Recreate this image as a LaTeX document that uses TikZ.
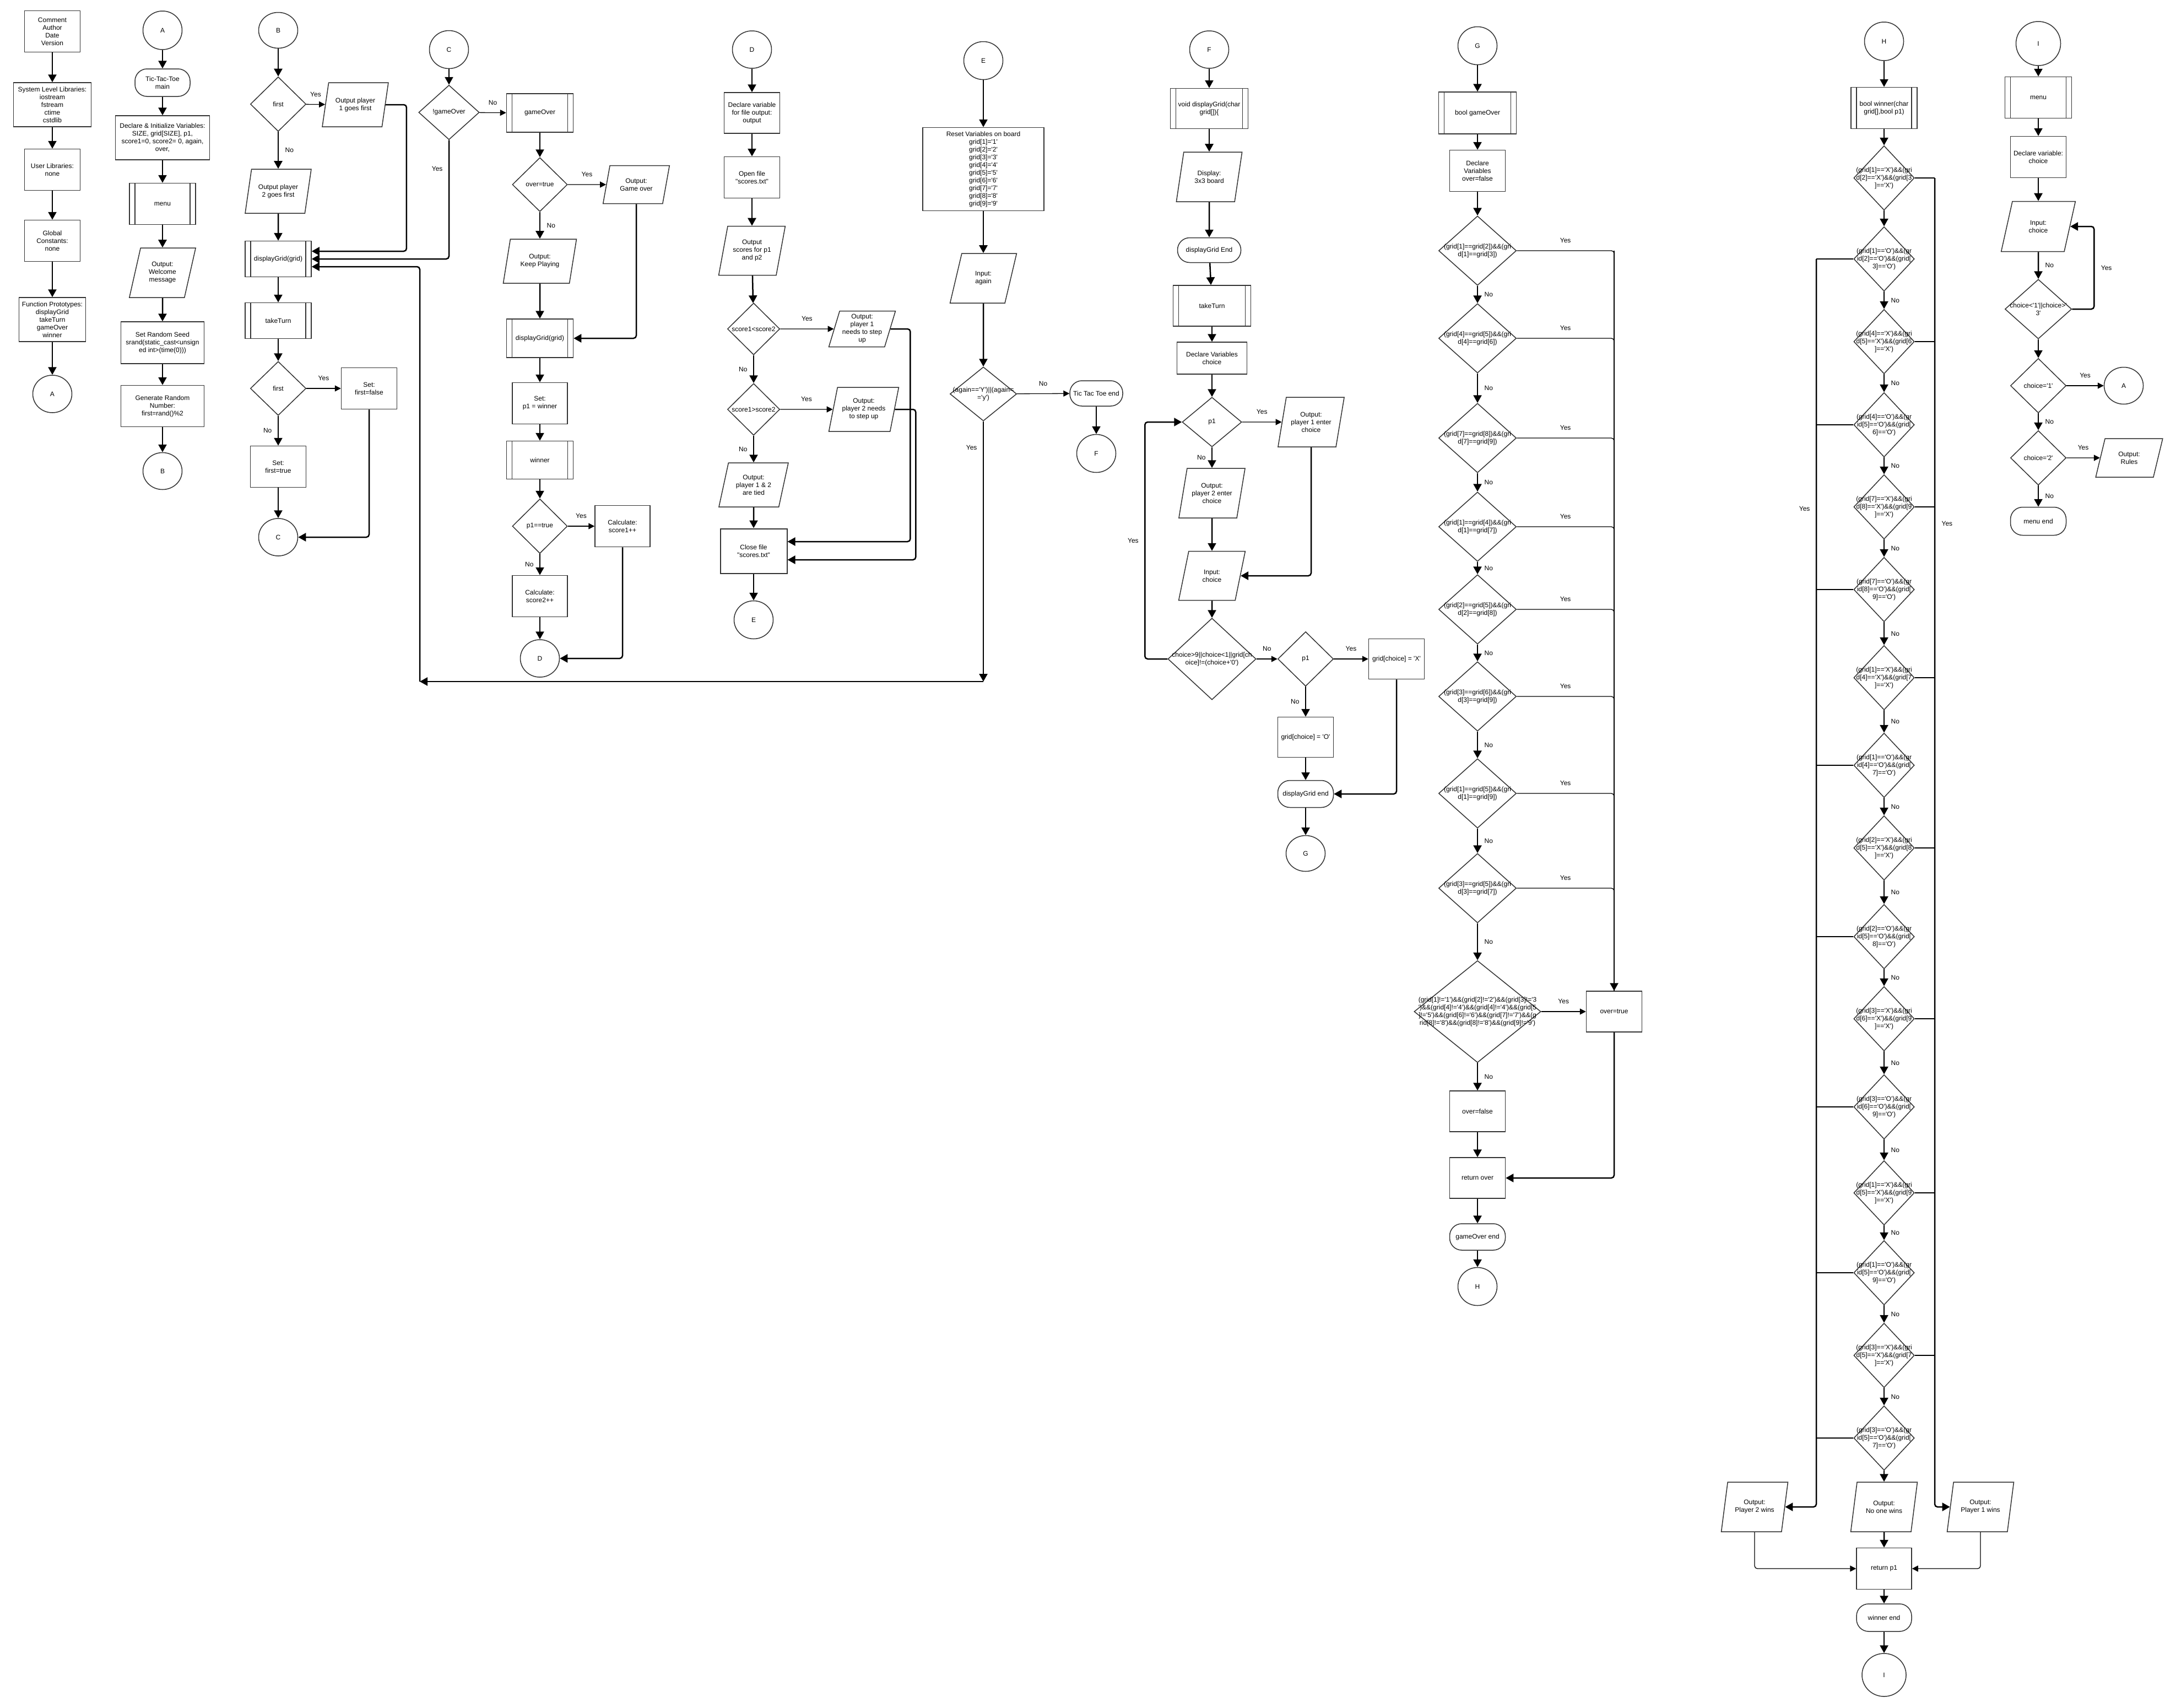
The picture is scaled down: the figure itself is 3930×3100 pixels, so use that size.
\documentclass[tikz,border=0pt]{standalone}
\usepackage{fontspec}
\usepackage{tikz}
\usetikzlibrary{arrows.meta,shapes.geometric}
\newfontfamily\flowfont{Liberation Sans}
\newcommand{\flowtxt}{\flowfont\fontsize{12pt}{14pt}\selectfont}
\definecolor{edgec}{HTML}{333333}
\tikzset{
  dims/.style 2 args={minimum width=#1pt,minimum height=#2pt},
  proc/.style={rectangle,draw=edgec,line width=1.5pt,inner sep=1pt,align=center},
  pred/.style={proc,path picture={\draw[edgec,line width=1.5pt]
      ([xshift=10pt]path picture bounding box.north west) -- ([xshift=10pt]path picture bounding box.south west)
      ([xshift=-10pt]path picture bounding box.north east) -- ([xshift=-10pt]path picture bounding box.south east);}},
  term/.style={proc,rounded corners=22pt},
  io/.style={trapezium,trapezium left angle=72,trapezium right angle=108,trapezium stretches=true,
      draw=edgec,line width=1.5pt,inner sep=1pt,align=center},
  conn/.style={ellipse,draw=edgec,line width=1.5pt,inner sep=0pt,dims={71}{69}},
  dec/.style={diamond,draw=edgec,line width=1.5pt,inner sep=0pt,label={[align=center]center:#1}},
  gdec/.style={dec={#1},dims={141}{126}},
  hdec/.style={dec={#1},dims={110}{117}},
  ar/.style={-{Triangle[length=14pt,width=15pt]},line width=2.5pt,rounded corners=5pt},
  arthin/.style={-{Triangle[length=11pt,width=11pt]},line width=1.3pt,rounded corners=5pt},
  ln/.style={line width=1.3pt,rounded corners=5pt},
  labA/.style={above=10pt},
  labR/.style={right=8pt},
  labL/.style={left=7pt}
}
\begin{document}
\begin{tikzpicture}[x=1pt,y=-1pt,font=\flowtxt]
\path[fill=white,use as bounding box] (0,0) rectangle (3930,3100);

% header
\node[proc,dims={101}{75}] (cmt) at (95,57) {Comment\\Author\\Date\\Version};
\node[proc,dims={141}{80}] (syslib) at (95,190) {System Level Libraries:\\iostream\\fstream\\ctime\\cstdlib};
\node[proc,dims={101}{75}] (usrlib) at (95,308) {User Libraries:\\none};
\node[proc,dims={101}{75}] (glob) at (95,437) {Global\\Constants:\\none};
\node[proc,dims={121}{80}] (proto) at (95,580) {Function Prototypes:\\displayGrid\\takeTurn\\gameOver\\winner};
\node[conn,dims={71}{68}] (conA1) at (95,715) {A};
\draw[ar] (cmt) -- (syslib);
\draw[ar] (syslib) -- (usrlib);
\draw[ar] (usrlib) -- (glob);
\draw[ar] (glob) -- (proto);
\draw[ar] (proto) -- (conA1);

% A: main
\node[conn,dims={71}{70}] (conA2) at (295,55) {A};
\node[term,dims={100}{50}] (mainT) at (295,150) {Tic-Tac-Toe\\main};
\node[proc,dims={171}{80}] (initV) at (295,250) {Declare \& Initialize Variables:\\SIZE, grid[SIZE], p1,\\score1=0, score2= 0, again,\\over,};
\node[pred,dims={120}{75}] (menuA) at (295,370) {menu};
\node[io,dims={121}{90}] (welc) at (295,495) {Output:\\Welcome\\message};
\node[proc,dims={151}{76}] (seed) at (295,622) {Set Random Seed\\srand(static\_cast<unsign\\ed int>(time(0)))};
\node[proc,dims={151}{75}] (rnd) at (295,737) {Generate Random\\Number:\\first=rand()\%2};
\node[conn,dims={71}{67}] (conB1) at (295,855) {B};
\draw[ar] (conA2) -- (mainT);
\draw[ar] (mainT) -- (initV);
\draw[ar] (initV) -- (menuA);
\draw[ar] (menuA) -- (welc);
\draw[ar] (welc) -- (seed);
\draw[ar] (seed) -- (rnd);
\draw[ar] (rnd) -- (conB1);

% B: turns
\node[conn,dims={71}{65}] (conB2) at (505,55) {B};
\node[dec={first},dims={101}{99}] (first1) at (505,189) {};
\node[io,dims={120}{80}] (out1) at (645,190) {Output player\\1 goes first};
\node[io,dims={120}{80}] (out2) at (505,347) {Output player\\2 goes first};
\node[pred,dims={120}{65}] (dispB) at (505,470) {displayGrid(grid)};
\node[pred,dims={120}{65}] (turnB) at (505,582) {takeTurn};
\node[dec={first},dims={101}{98}] (first2) at (505,705) {};
\node[proc,dims={101}{75}] (setF) at (670,705) {Set:\\first=false};
\node[proc,dims={101}{75}] (setT) at (505,847) {Set:\\first=true};
\node[conn,dims={71}{68}] (conC1) at (505,975) {C};
\draw[ar] (conB2) -- (first1);
\draw[arthin] (first1) -- node[labA]{Yes} (out1);
\draw[ar] (first1) -- node[labR]{No} (out2);
\draw[ar] (out2) -- (dispB);
\draw[ar] (out1.east) -- ++(38,0) |- ([yshift=14pt]dispB.east);
\draw[ar] (dispB) -- (turnB);
\draw[ar] (turnB) -- (first2);
\draw[arthin] (first2) -- node[labA]{Yes} (setF);
\draw[ar] (first2) -- node[labL]{No} (setT);
\draw[ar] (setT) -- (conC1);
\draw[ar] (setF) |- (conC1);

% C: game loop
\node[conn] (conC2) at (815,90) {C};
\node[dec={!gameOver},dims={110}{99}] (notGO) at (815,204) {};
\node[pred,dims={121}{70}] (goC) at (980,205) {gameOver};
\node[dec={over=true},dims={100}{98}] (overT) at (980,335) {};
\node[io,dims={121}{69}] (goOut) at (1155,335) {Output:\\Game over};
\node[io,dims={134}{80}] (keepP) at (980,474) {Output:\\Keep Playing};
\node[pred,dims={121}{70}] (dispC) at (980,614) {displayGrid(grid)};
\node[proc,dims={100}{75}] (setP1) at (980,732) {Set:\\p1 = winner};
\node[pred,dims={121}{69}] (winC) at (980,835) {winner};
\node[dec={p1==true},dims={100}{99}] (p1T) at (980,955) {};
\node[proc,dims={100}{75}] (sc1) at (1130,955) {Calculate:\\score1++};
\node[proc,dims={100}{75}] (sc2) at (980,1082) {Calculate:\\score2++};
\node[conn,dims={71}{68}] (conD1) at (980,1195) {D};
\draw[ar] (conC2) -- (notGO);
\draw[arthin] (notGO) -- node[labA]{No} (goC);
\draw[ar] (notGO) |- node[pos=0.12,labL]{Yes} (dispB);
\draw[ar] (goC) -- (overT);
\draw[arthin] (overT) -- node[labA]{Yes} (goOut);
\draw[ar] (overT) -- node[labR]{No} (keepP);
\draw[ar] (keepP) -- (dispC);
\draw[ar] (goOut) |- (dispC);
\draw[ar] (dispC) -- (setP1);
\draw[ar] (setP1) -- (winC);
\draw[ar] (winC) -- (p1T);
\draw[arthin] (p1T) -- node[labA]{Yes} (sc1);
\draw[ar] (p1T) -- node[labL]{No} (sc2);
\draw[ar] (sc2) -- (conD1);
\draw[ar] (sc1) |- (conD1);

% D: scores file
\node[conn,dims={71}{68}] (conD2) at (1365,90) {D};
\node[proc,dims={101}{74}] (declF) at (1365,205) {Declare variable\\for file output:\\output};
\node[proc,dims={101}{75}] (openF) at (1365,322) {Open file\\"scores.txt"};
\node[io,dims={121}{89}] (outSc) at (1365,455) {Output\\scores for p1\\and p2};
\node[dec={score1<score2},dims={95}{94}] (cmp1) at (1368,597) {};
\node[io,dims={121}{65}] (stepP1) at (1565,597) {Output:\\player 1\\needs to step\\up};
\node[dec={score1>score2},dims={95}{94}] (cmp2) at (1368,743) {};
\node[io,dims={127}{80}] (stepP2) at (1568,743) {Output:\\player 2 needs\\to step up};
\node[io,dims={127}{80}] (tied) at (1368,880) {Output:\\player 1 \& 2\\are tied};
\node[proc,line width=2pt,dims={121}{81}] (closeF) at (1368,1000) {Close file\\"scores.txt"};
\node[conn] (conE1) at (1368,1125) {E};
\draw[ar] (conD2) -- (declF);
\draw[ar] (declF) -- (openF);
\draw[ar] (openF) -- (outSc);
\draw[ar] (outSc) -- (cmp1);
\draw[arthin] (cmp1) -- node[labA]{Yes} (stepP1);
\draw[ar] (cmp1) -- node[labL]{No} (cmp2);
\draw[arthin] (cmp2) -- node[labA]{Yes} (stepP2);
\draw[ar] (cmp2) -- node[labL]{No} (tied);
\draw[ar] (tied) -- (closeF);
\draw[ar] (closeF) -- (conE1);
\draw[ar] (stepP1.east) -- ++(36,0) |- ([yshift=17pt]closeF.east);
\draw[ar] (stepP2.east) -- ++(38,0) |- ([yshift=-16pt]closeF.east);

% E: play again
\node[conn] (conE2) at (1785,110) {E};
\node[proc,dims={220}{151}] (reset) at (1785,307) {Reset Variables on board\\grid[1]='1'\\grid[2]='2'\\grid[3]='3'\\grid[4]='4'\\grid[5]='5'\\grid[6]='6'\\grid[7]='7'\\grid[8]='8'\\grid[9]='9'};
\node[io,dims={121}{90}] (inAgain) at (1785,505) {Input:\\again};
\node[dec={(again=='Y')||(again=\\='y')},dims={121}{98}] (again) at (1785,715) {};
\node[term,dims={96}{46}] (endT) at (1990,714) {Tic Tac Toe end};
\node[conn] (conF1) at (1990,823) {F};
\coordinate (retE) at (1785,1237);
\coordinate (retB) at (762,1237);
\draw[ar] (conE2) -- (reset);
\draw[ar] (reset) -- (inAgain);
\draw[ar] (inAgain) -- (again);
\draw[arthin] (again) -- node[labA]{No} (endT);
\draw[ar] (endT) -- (conF1);
\draw[ar] (again) -- node[pos=0.1,labL]{Yes} (retE);
\draw[ar] (retE) -- (retB);
\draw[ar] (retB) |- ([yshift=-14pt]dispB.east);

% F: displayGrid and takeTurn
\node[conn,dims={71}{68}] (conF2) at (2195,90) {F};
\node[pred,dims={141}{73}] (dgF) at (2195,197) {void displayGrid(char\\grid[])\{};
\node[io,dims={120}{90}] (show) at (2195,321) {Display:\\3x3 board};
\node[term,dims={115}{45}] (dgEnd) at (2195,454) {displayGrid End};
\node[pred,dims={141}{74}] (turnF) at (2200,555) {takeTurn};
\node[proc,dims={127}{58}] (declCh) at (2200,650) {Declare Variables\\choice};
\node[dec={p1},dims={108}{90}] (p1F) at (2200,766) {};
\node[io,dims={121}{90}] (askP1) at (2380,766) {Output:\\player 1 enter\\choice};
\node[io,dims={121}{90}] (askP2) at (2200,895) {Output:\\player 2 enter\\choice};
\node[io,dims={121}{89}] (inCh) at (2200,1045) {Input:\\choice};
\node[dec={choice>9||choice<1||grid[ch\\oice]!=(choice+'0')},dims={160}{148}] (valid) at (2200,1196) {};
\node[dec={p1},dims={101}{99}] (p1G) at (2370,1196) {};
\node[proc,dims={101}{73}] (setX) at (2535,1196) {grid[choice] = 'X'};
\node[proc,dims={101}{73}] (setO) at (2370,1338) {grid[choice] = 'O'};
\node[term,dims={101}{49}] (dgEnd2) at (2370,1441) {displayGrid end};
\node[conn,dims={71}{65}] (conG1) at (2370,1549) {G};
\draw[ar] (conF2) -- (dgF);
\draw[ar] (dgF) -- (show);
\draw[ar] (show) -- (dgEnd);
\draw[ar] (dgEnd) -- (turnF);
\draw[ar] (turnF) -- (declCh);
\draw[ar] (declCh) -- (p1F);
\draw[arthin] (p1F) -- node[labA]{Yes} (askP1);
\draw[ar] (p1F) -- node[labL]{No} (askP2);
\draw[ar] (askP2) -- (inCh);
\draw[ar] (askP1) |- (inCh);
\draw[ar] (inCh) -- (valid);
\draw[ar] (valid.west) -- ++(-41,0) |- node[pos=0.25,labL]{Yes} (p1F.west);
\draw[arthin] (valid) -- node[labA]{No} (p1G);
\draw[arthin] (p1G) -- node[labA]{Yes} (setX);
\draw[ar] (p1G) -- node[labL]{No} (setO);
\draw[ar] (setO) -- (dgEnd2);
\draw[ar] (setX) |- (dgEnd2);
\draw[ar] (dgEnd2) -- (conG1);

% G: gameOver
\node[conn] (conG2) at (2682,83) {G};
\node[pred,dims={141}{76}] (goG) at (2682,205) {bool gameOver};
\node[proc,dims={101}{75}] (declO) at (2682,310) {Declare\\Variables\\over=false};
\node[gdec={(grid[1]==grid[2])\&\&(gri\\d[1]==grid[3])}] (g1) at (2682,455) {};
\node[gdec={(grid[4]==grid[5])\&\&(gri\\d[4]==grid[6])}] (g2) at (2682,614) {};
\node[gdec={(grid[7]==grid[8])\&\&(gri\\d[7]==grid[9])}] (g3) at (2682,795) {};
\node[gdec={(grid[1]==grid[4])\&\&(gri\\d[1]==grid[7])}] (g4) at (2682,956) {};
\node[gdec={(grid[2]==grid[5])\&\&(gri\\d[2]==grid[8])}] (g5) at (2682,1106) {};
\node[gdec={(grid[3]==grid[6])\&\&(gri\\d[3]==grid[9])}] (g6) at (2682,1264) {};
\node[gdec={(grid[1]==grid[5])\&\&(gri\\d[1]==grid[9])}] (g7) at (2682,1440) {};
\node[gdec={(grid[3]==grid[5])\&\&(gri\\d[3]==grid[7])}] (g8) at (2682,1612) {};
\node[dec={(grid[1]!='1')\&\&(grid[2]!='2')\&\&(grid[3]!='3\\')\&\&(grid[4]!='4')\&\&(grid[4]!='4')\&\&(grid[5\\]!='5')\&\&(grid[6]!='6')\&\&(grid[7]!='7')\&\&(g\\rid[8]!='8')\&\&(grid[8]!='8')\&\&(grid[9]!='9')},dims={230}{185}] (g9) at (2682,1836) {};
\node[proc,dims={101}{74}] (overTG) at (2930,1836) {over=true};
\node[proc,dims={101}{74}] (overFG) at (2682,2017) {over=false};
\node[proc,dims={101}{74}] (retO) at (2682,2138) {return over};
\node[term,dims={101}{48}] (goEnd) at (2682,2245) {gameOver end};
\node[conn] (conH1) at (2682,2335) {H};
\coordinate (gbus) at (2930,455);
\draw[ar] (conG2) -- (goG);
\draw[ar] (goG) -- (declO);
\draw[ar] (declO) -- (g1);
\draw[ar] (g1) -- node[labR]{No} (g2);
\draw[ar] (g2) -- node[labR]{No} (g3);
\draw[ar] (g3) -- node[labR]{No} (g4);
\draw[ar] (g4) -- node[labR]{No} (g5);
\draw[ar] (g5) -- node[labR]{No} (g6);
\draw[ar] (g6) -- node[labR]{No} (g7);
\draw[ar] (g7) -- node[labR]{No} (g8);
\draw[ar] (g8) -- node[labR]{No} (g9);
\draw[ln] (g1.east) -| node[pos=0.25,labA]{Yes} (overTG);
\draw[ln] (g2.east) -| node[pos=0.25,labA]{Yes} (overTG);
\draw[ln] (g3.east) -| node[pos=0.25,labA]{Yes} (overTG);
\draw[ln] (g4.east) -| node[pos=0.25,labA]{Yes} (overTG);
\draw[ln] (g5.east) -| node[pos=0.25,labA]{Yes} (overTG);
\draw[ln] (g6.east) -| node[pos=0.25,labA]{Yes} (overTG);
\draw[ln] (g7.east) -| node[pos=0.25,labA]{Yes} (overTG);
\draw[ln] (g8.east) -| node[pos=0.25,labA]{Yes} (overTG);
\draw[ar] (gbus) -- (overTG);
\draw[arthin] (g9) -- node[labA]{Yes} (overTG);
\draw[ar] (g9) -- node[labR]{No} (overFG);
\draw[ar] (overFG) -- (retO);
\draw[ar] (overTG) |- (retO);
\draw[ar] (retO) -- (goEnd);
\draw[ar] (goEnd) -- (conH1);

% H: winner
\node[conn,dims={71}{70}] (conH2) at (3420,75) {H};
\node[pred,dims={120}{75}] (winH) at (3420,196) {bool winner(char\\grid[],bool p1)};
\node[hdec={(grid[1]=='X')\&\&(gri\\d[2]=='X')\&\&(grid[3\\]=='X')}] (h1) at (3420,323) {};
\node[hdec={(grid[1]=='O')\&\&(gr\\id[2]=='O')\&\&(grid[\\3]=='O')}] (h2) at (3420,470) {};
\node[hdec={(grid[4]=='X')\&\&(gri\\d[5]=='X')\&\&(grid[6\\]=='X')}] (h3) at (3420,620) {};
\node[hdec={(grid[4]=='O')\&\&(gr\\id[5]=='O')\&\&(grid[\\6]=='O')}] (h4) at (3420,771) {};
\node[hdec={(grid[7]=='X')\&\&(gri\\d[8]=='X')\&\&(grid[9\\]=='X')}] (h5) at (3420,920) {};
\node[hdec={(grid[7]=='O')\&\&(gr\\id[8]=='O')\&\&(grid[\\9]=='O')}] (h6) at (3420,1070) {};
\node[hdec={(grid[1]=='X')\&\&(gri\\d[4]=='X')\&\&(grid[7\\]=='X')}] (h7) at (3420,1230) {};
\node[hdec={(grid[1]=='O')\&\&(gr\\id[4]=='O')\&\&(grid[\\7]=='O')}] (h8) at (3420,1389) {};
\node[hdec={(grid[2]=='X')\&\&(gri\\d[5]=='X')\&\&(grid[8\\]=='X')}] (h9) at (3420,1539) {};
\node[hdec={(grid[2]=='O')\&\&(gr\\id[5]=='O')\&\&(grid[\\8]=='O')}] (h10) at (3420,1700) {};
\node[hdec={(grid[3]=='X')\&\&(gri\\d[6]=='X')\&\&(grid[9\\]=='X')}] (h11) at (3420,1849) {};
\node[hdec={(grid[3]=='O')\&\&(gr\\id[6]=='O')\&\&(grid[\\9]=='O')}] (h12) at (3420,2009) {};
\node[hdec={(grid[1]=='X')\&\&(gri\\d[5]=='X')\&\&(grid[9\\]=='X')}] (h13) at (3420,2165) {};
\node[hdec={(grid[1]=='O')\&\&(gr\\id[5]=='O')\&\&(grid[\\9]=='O')}] (h14) at (3420,2310) {};
\node[hdec={(grid[3]=='X')\&\&(gri\\d[5]=='X')\&\&(grid[7\\]=='X')}] (h15) at (3420,2460) {};
\node[hdec={(grid[3]=='O')\&\&(gr\\id[5]=='O')\&\&(grid[\\7]=='O')}] (h16) at (3420,2610) {};
\node[io,dims={121}{90}] (p2win) at (3185,2735) {Output:\\Player 2 wins};
\node[io,dims={121}{90}] (noWin) at (3420,2735) {Output:\\No one wins};
\node[io,dims={121}{90}] (p1win) at (3595,2735) {Output:\\Player 1 wins};
\node[proc,dims={100}{75}] (retP1) at (3420,2847) {return p1};
\node[term,dims={100}{50}] (winEnd) at (3420,2936) {winner end};
\node[conn,dims={80}{78}] (conI1) at (3420,3040) {I};
\coordinate (hR) at (3512,323);
\coordinate (hL) at (3297,470);
\draw[ar] (conH2) -- (winH);
\draw[ar] (winH) -- (h1);
\draw[ar] (h1) -- (h2);
\draw[ar] (h2) -- node[labR]{No} (h3);
\draw[ar] (h3) -- node[labR]{No} (h4);
\draw[ar] (h4) -- node[labR]{No} (h5);
\draw[ar] (h5) -- node[labR]{No} (h6);
\draw[ar] (h6) -- node[labR]{No} (h7);
\draw[ar] (h7) -- node[labR]{No} (h8);
\draw[ar] (h8) -- node[labR]{No} (h9);
\draw[ar] (h9) -- node[labR]{No} (h10);
\draw[ar] (h10) -- node[labR]{No} (h11);
\draw[ar] (h11) -- node[labR]{No} (h12);
\draw[ar] (h12) -- node[labR]{No} (h13);
\draw[ar] (h13) -- node[labR]{No} (h14);
\draw[ar] (h14) -- node[labR]{No} (h15);
\draw[ar] (h15) -- node[labR]{No} (h16);
\draw[ar] (h16) -- (noWin);
\draw[ln] (h1.east) -- (hR);
\draw[ln] (h3.east) -- (h3.east -| hR);
\draw[ln] (h5.east) -- (h5.east -| hR);
\draw[ln] (h7.east) -- (h7.east -| hR);
\draw[ln] (h9.east) -- (h9.east -| hR);
\draw[ln] (h11.east) -- (h11.east -| hR);
\draw[ln] (h13.east) -- (h13.east -| hR);
\draw[ln] (h15.east) -- (h15.east -| hR);
\draw[ln] (h2.west) -- (hL);
\draw[ln] (h4.west) -- (h4.west -| hL);
\draw[ln] (h6.west) -- (h6.west -| hL);
\draw[ln] (h8.west) -- (h8.west -| hL);
\draw[ln] (h10.west) -- (h10.west -| hL);
\draw[ln] (h12.west) -- (h12.west -| hL);
\draw[ln] (h14.west) -- (h14.west -| hL);
\draw[ln] (h16.west) -- (h16.west -| hL);
\draw[ar] (hR) |- node[pos=0.13,labR]{Yes} (p1win);
\draw[ar] (hL) |- node[pos=0.1,labL]{Yes} (p2win);
\draw[ar] (noWin) -- (retP1);
\draw[arthin] (p2win) |- (retP1);
\draw[arthin] (p1win) |- (retP1);
\draw[ar] (retP1) -- (winEnd);
\draw[ar] (winEnd) -- (conI1);

% I: menu
\node[conn,dims={81}{80}] (conI2) at (3700,79) {I};
\node[pred,dims={121}{75}] (menuI) at (3700,177) {menu};
\node[proc,dims={101}{75}] (declI) at (3700,285) {Declare variable:\\choice};
\node[io,dims={135}{91}] (inI) at (3700,411) {Input:\\choice};
\node[dec={choice<'1'||choice>'\\3'},dims={121}{108}] (rangeI) at (3700,561) {};
\node[dec={choice='1'},dims={101}{99}] (ch1) at (3700,700) {};
\node[conn,dims={71}{67}] (conA3) at (3855,700) {A};
\node[dec={choice='2'},dims={101}{99}] (ch2) at (3700,831) {};
\node[io,dims={122}{70}] (rules) at (3865,831) {Output:\\Rules};
\node[term,dims={101}{51}] (menuEnd) at (3700,946) {menu end};
\draw[ar] (conI2) -- (menuI);
\draw[ar] (menuI) -- (declI);
\draw[ar] (declI) -- (inI);
\draw[ar] (inI) -- node[labR]{No} (rangeI);
\draw[ar] (rangeI.east) -- ++(40,0) |- node[pos=0.25,labR]{Yes} (inI.east);
\draw[ar] (rangeI) -- (ch1);
\draw[arthin] (ch1) -- node[labA]{Yes} (conA3);
\draw[ar] (ch1) -- node[labR]{No} (ch2);
\draw[arthin] (ch2) -- node[labA]{Yes} (rules);
\draw[ar] (ch2) -- node[labR]{No} (menuEnd);
\end{tikzpicture}
\end{document}
